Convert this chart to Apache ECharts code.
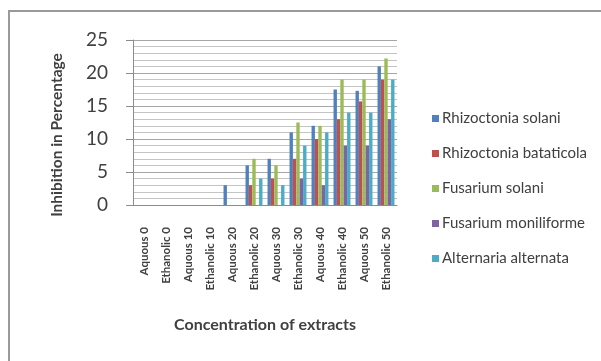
<!DOCTYPE html>
<html>
<head>
<meta charset="utf-8">
<script src="https://cdn.jsdelivr.net/npm/echarts@6/dist/echarts.min.js"></script>
<style>
  html, body { margin: 0; padding: 0; background: #fff; }
  #chart { width: 601px; height: 361px; }
</style>
</head>
<body>
<div id="chart"></div>
<script>
// Extract concentrations (category axis)
const categories = [
  'Aquous 0', 'Ethanolic 0', 'Aquous 10', 'Ethanolic 10',
  'Aquous 20', 'Ethanolic 20', 'Aquous 30', 'Ethanolic 30',
  'Aquous 40', 'Ethanolic 40', 'Aquous 50', 'Ethanolic 50'
];

// Inhibition (%) for each fungus
const rhizoctoniaSolani      = [0, 0, 0, 0, 3, 6, 7, 11, 12, 17.5, 17.3, 21];
const rhizoctoniaBataticola  = [0, 0, 0, 0, 0, 3, 4, 7, 10, 13, 15.7, 19];
const fusariumSolani         = [0, 0, 0, 0, 0, 7, 6, 12.5, 12, 19, 19, 22.2];
const fusariumMoniliforme    = [0, 0, 0, 0, 0, 0, 0, 4, 3, 9, 9, 13];
const alternariaAlternata    = [0, 0, 0, 0, 0, 4, 3, 9, 11, 14, 14, 19];

const seriesNames = [
  'Rhizoctonia solani', 'Rhizoctonia bataticola', 'Fusarium solani',
  'Fusarium moniliforme', 'Alternaria alternata'
];
const seriesData = [
  rhizoctoniaSolani, rhizoctoniaBataticola, fusariumSolani,
  fusariumMoniliforme, alternariaAlternata
];
const colors = ['#4F81BD', '#C0504D', '#9BBB59', '#8064A2', '#4BACC6'];

const font = 'Lato, "Open Sans", sans-serif';

const chart = echarts.init(document.getElementById('chart'), null, { renderer: 'canvas' });

chart.setOption({
  animation: false,
  color: colors,
  grid: { left: 133, right: 204, top: 40, bottom: 156, containLabel: false },
  legend: {
    orient: 'vertical',
    left: 432,
    top: 111,
    padding: 0,
    itemGap: 20,
    itemWidth: 7,
    itemHeight: 7,
    icon: 'rect',
    textStyle: { fontFamily: font, fontSize: 15, color: '#404040', padding: [0, 0, 0, -2] },
    data: seriesNames
  },
  xAxis: {
    type: 'category',
    data: categories,
    axisLine: { lineStyle: { color: '#8c8c8c', width: 1 } },
    axisTick: { show: false },
    axisLabel: {
      rotate: 90,
      interval: 0,
      margin: 22,
      fontFamily: font,
      fontSize: 11.5,
      fontWeight: 'bold',
      color: '#404040'
    }
  },
  yAxis: {
    type: 'value',
    min: 0,
    max: 25,
    interval: 5,
    axisLine: { show: true, lineStyle: { color: '#8c8c8c', width: 1 } },
    axisTick: { show: true, length: 7, lineStyle: { color: '#8c8c8c' } },
    axisLabel: { margin: 25, fontFamily: font, fontSize: 19, color: '#404040' },
    splitLine: { show: true, lineStyle: { color: '#a6a6a6', width: 1 } },
    minorTick: { show: false, splitNumber: 5 },
    minorSplitLine: { show: true, lineStyle: { color: '#c4c4c4', width: 1 } }
  },
  series: seriesNames.map((name, i) => ({
    name: name,
    type: 'bar',
    data: seriesData[i],
    barGap: '0%',
    barCategoryGap: '23%'
  })),
  graphic: [
    {
      type: 'rect',
      shape: { x: 9, y: 11, width: 620, height: 380 },
      style: { fill: 'none', stroke: '#9a9a9a', lineWidth: 2 },
      silent: true
    },
    {
      type: 'text',
      x: 57, y: 135,
      rotation: Math.PI / 2,
      style: {
        text: 'Inhibition in Percentage',
        font: 'bold 15.5px ' + font,
        fill: '#404040',
        align: 'center',
        verticalAlign: 'middle'
      }
    },
    {
      type: 'text',
      x: 265, y: 325,
      style: {
        text: 'Concentration of extracts',
        font: 'bold 16px ' + font,
        fill: '#404040',
        align: 'center',
        verticalAlign: 'middle'
      }
    }
  ]
});
</script>
</body>
</html>
